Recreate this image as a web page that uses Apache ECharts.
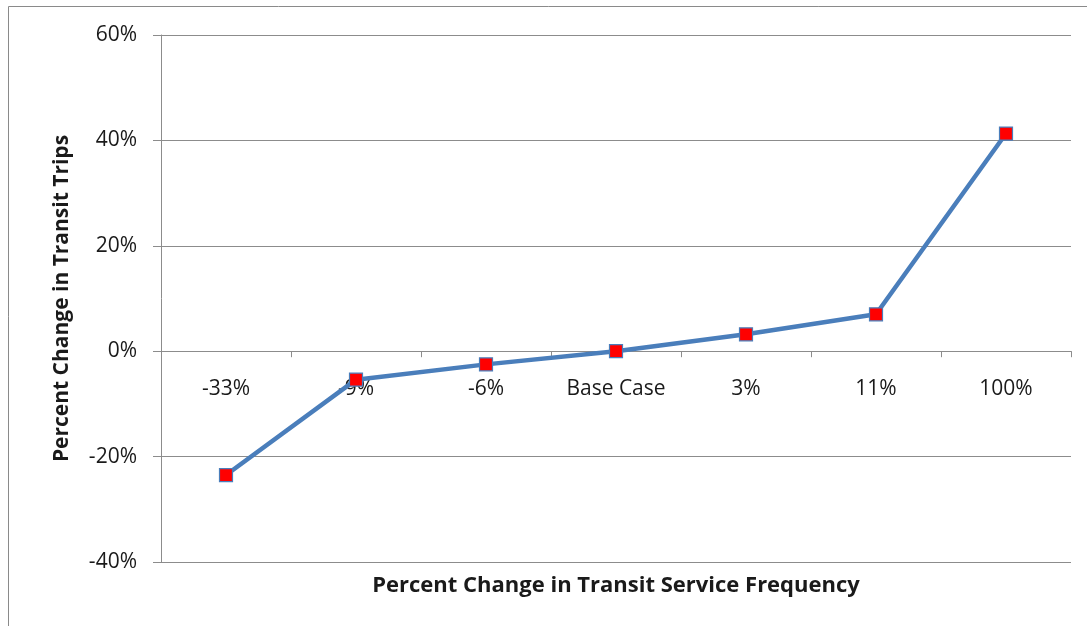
<!DOCTYPE html>
<html>
<head>
<meta charset="utf-8">
<script src="https://cdn.jsdelivr.net/npm/echarts@6/dist/echarts.min.js"></script>
<style>
  html, body { margin: 0; padding: 0; background: #fff; }
  #chart { width: 1087px; height: 626px; }
</style>
</head>
<body>
<div id="chart"></div>
<script>
// Service frequency scenarios and resulting change in transit trips (%)
const categories = ['-33%', '-9%', '-6%', 'Base Case', '3%', '11%', '100%'];
const tripChange = [-23.5, -5.4, -2.5, 0, 3.2, 7.0, 41.3];
const yTicks = { min: -40, max: 60, step: 20 };

const gridColor = '#8c8c8c';
const textFont = '"Open Sans", "DejaVu Sans", sans-serif';
const grid = { left: 161, right: 16, top: 35, bottom: 64 };
const plotHeight = 626 - grid.top - grid.bottom;
// distance from the plot bottom up to the 0% line, where category labels sit
const zeroLift = plotHeight * (0 - yTicks.min) / (yTicks.max - yTicks.min);

const chart = echarts.init(document.getElementById('chart'));
chart.setOption({
  animation: false,
  backgroundColor: '#ffffff',
  grid: grid,
  graphic: [
    {
      type: 'rect',
      shape: { x: 8.5, y: 6.5, width: 1200, height: 800 },
      style: { fill: 'none', stroke: '#8a8a8a', lineWidth: 1 },
      silent: true
    },
    {
      type: 'text',
      x: 616, y: 586,
      style: {
        text: 'Percent Change in Transit Service Frequency',
        font: 'bold 22px ' + textFont,
        fill: '#1a1a1a',
        textAlign: 'center',
        textVerticalAlign: 'middle'
      }
    }
  ],
  xAxis: [
    {
      type: 'category',
      data: categories,
      boundaryGap: true,
      axisLine: { onZero: true, lineStyle: { color: gridColor, width: 1 } },
      axisTick: { show: true, length: 6, lineStyle: { color: gridColor } },
      axisLabel: { show: false },
      splitLine: { show: false }
    },
    {
      // label row placed just below the 0% line
      type: 'category',
      data: categories,
      position: 'bottom',
      offset: -zeroLift,
      boundaryGap: true,
      axisLine: { show: false, onZero: false },
      axisTick: { show: false },
      axisLabel: { color: '#1a1a1a', fontFamily: textFont, fontSize: 21, margin: 27 },
      splitLine: { show: false }
    }
  ],
  yAxis: {
    type: 'value',
    min: yTicks.min,
    max: yTicks.max,
    interval: yTicks.step,
    name: 'Percent Change in Transit Trips',
    nameLocation: 'middle',
    nameGap: 88,
    nameRotate: 90,
    nameTextStyle: { color: '#1a1a1a', fontFamily: textFont, fontWeight: 'bold', fontSize: 21 },
    axisLine: { show: true, lineStyle: { color: gridColor, width: 1 } },
    axisTick: { show: true, length: 8, lineStyle: { color: gridColor } },
    axisLabel: {
      color: '#1a1a1a', fontFamily: textFont, fontSize: 21, margin: 24,
      padding: [4, 0, 0, 0], formatter: '{value}%'
    },
    splitLine: { show: true, lineStyle: { color: gridColor, width: 1 } }
  },
  series: [{
    type: 'line',
    xAxisIndex: 0,
    data: tripChange,
    symbol: 'rect',
    symbolSize: 13,
    lineStyle: { color: '#4a7ebb', width: 4.5 },
    itemStyle: { color: '#ff0000', borderColor: '#4a7ebb', borderWidth: 1.2 },
    z: 3
  }]
});
</script>
</body>
</html>
